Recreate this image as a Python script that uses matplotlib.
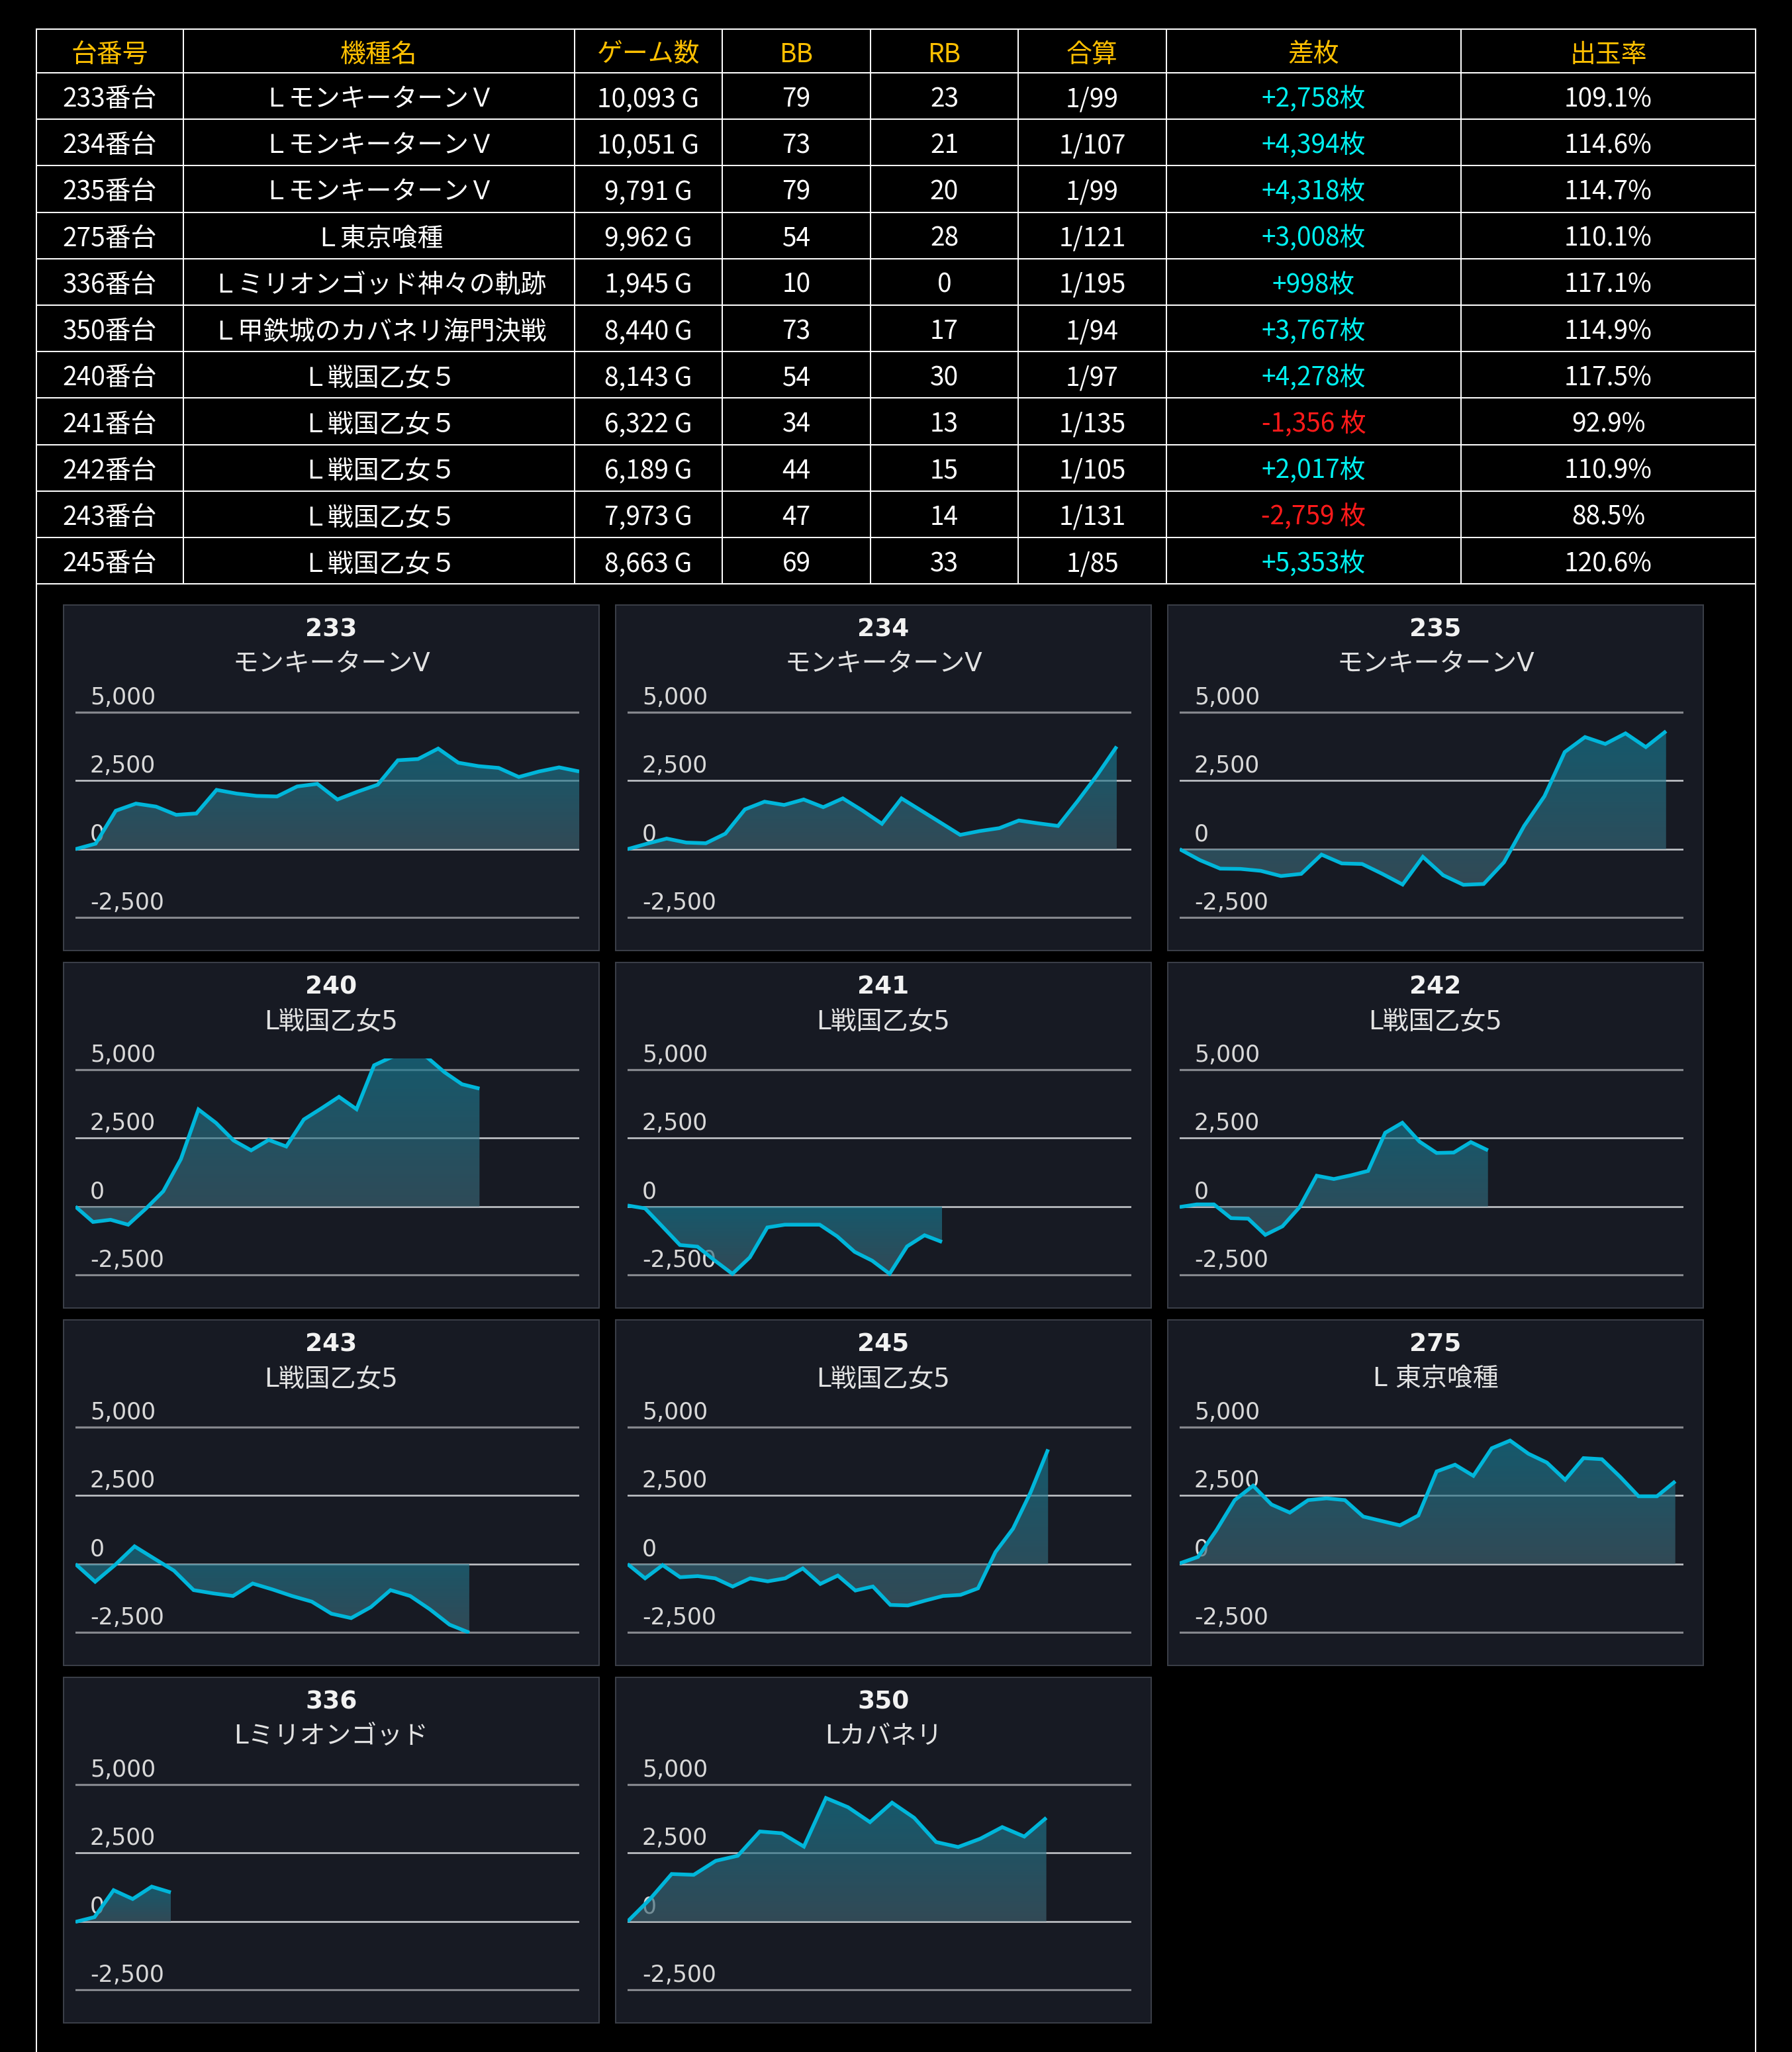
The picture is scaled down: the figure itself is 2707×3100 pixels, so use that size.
import matplotlib
matplotlib.use('Agg')
import matplotlib.pyplot as plt
import numpy as np
from matplotlib.patches import Rectangle, Polygon
from matplotlib.colors import LinearSegmentedColormap

# ---- table data ----
header = ['台番号', '機種名', 'ゲーム数', 'BB', 'RB', '合算', '差枚', '出玉率']
units = ['233番台', '234番台', '235番台', '275番台', '336番台', '350番台',
         '240番台', '241番台', '242番台', '243番台', '245番台']
machines = ['ＬモンキーターンＶ', 'ＬモンキーターンＶ', 'ＬモンキーターンＶ', 'Ｌ東京喰種',
            'Ｌミリオンゴッド神々の軌跡', 'Ｌ甲鉄城のカバネリ海門決戦',
            'Ｌ戦国乙女５', 'Ｌ戦国乙女５', 'Ｌ戦国乙女５', 'Ｌ戦国乙女５', 'Ｌ戦国乙女５']
games = [10093, 10051, 9791, 9962, 1945, 8440, 8143, 6322, 6189, 7973, 8663]
bb = [79, 73, 79, 54, 10, 73, 54, 34, 44, 47, 69]
rb = [23, 21, 20, 28, 0, 17, 30, 13, 15, 14, 33]
combined = ['1/99', '1/107', '1/99', '1/121', '1/195', '1/94', '1/97', '1/135', '1/105', '1/131', '1/85']
diff = [2758, 4394, 4318, 3008, 998, 3767, 4278, -1356, 2017, -2759, 5353]
payout = [109.1, 114.6, 114.7, 110.1, 117.1, 114.9, 117.5, 92.9, 110.9, 88.5, 120.6]

# ---- slump graph data (coins) ----
slump_233 = [0, 200, 1400, 1660, 1550, 1250, 1300, 2160, 2025, 1940, 1920, 2285, 2380,
             1810, 2095, 2350, 3240, 3285, 3665, 3150, 3025, 2960, 2630, 2830, 2980, 2830]
slump_234 = [0, 200, 385, 240, 215, 565, 1450, 1730, 1610, 1810, 1530, 1850, 1410, 925,
             1850, 1410, 965, 520, 660, 765, 1045, 940, 845, 1750, 2700, 3740]
slump_235 = [0, -400, -710, -720, -790, -980, -900, -200, -520, -540, -900, -1290, -280,
             -950, -1300, -1270, -480, 850, 1930, 3540, 4085, 3835, 4220, 3720, 4300]
slump_240 = [0, -560, -480, -660, -80, 560, 1730, 3540, 3050, 2410, 2050, 2430, 2190,
             3175, 3580, 4000, 3550, 5150, 5450, 5600, 5450, 4900, 4460, 4300]
slump_241 = [40, -65, -730, -1400, -1460, -1970, -2450, -1850, -760, -660, -660, -660,
             -1085, -1650, -1970, -2450, -1450, -1045, -1290]
slump_242 = [-15, 80, 80, -420, -440, -1030, -720, -20, 1125, 1005, 1140, 1300, 2690,
             3055, 2370, 1955, 1970, 2350, 2050]
slump_243 = [0, -645, -40, 645, 200, -240, -950, -1070, -1165, -710, -925, -1165, -1370,
             -1810, -1970, -1570, -950, -1165, -1650, -2210, -2500]
slump_245 = [0, -520, -40, -480, -440, -520, -820, -520, -630, -520, -160, -725, -420,
             -965, -820, -1490, -1510, -1330, -1165, -1125, -885, 440, 1290, 2610, 4180]
slump_275 = [25, 260, 1230, 2330, 2855, 2170, 1875, 2330, 2395, 2330, 1730, 1570, 1410,
             1770, 3375, 3620, 3215, 4220, 4500, 4020, 3700, 3070, 3860, 3820, 3175,
             2470, 2470, 3015]
slump_336 = [-15, 160, 1140, 820, 1270, 1060]
slump_350 = [0, 800, 1730, 1700, 2210, 2395, 3280, 3215, 2730, 4500, 4165, 3620, 4330,
             3780, 2895, 2715, 3015, 3440, 3095, 3780]

panel_units = ['233', '234', '235', '240', '241', '242', '243', '245', '275', '336', '350']
panel_names = ['モンキーターンV', 'モンキーターンV', 'モンキーターンV', 'L戦国乙女5', 'L戦国乙女5',
               'L戦国乙女5', 'L戦国乙女5', 'L戦国乙女5', 'L 東京喰種', 'Lミリオンゴッド', 'Lカバネリ']
# last game count reached on each graph
panel_ends = [10093, 9800, 9745, 8095, 6300, 6177, 7890, 8425, 9930, 1910, 8390]
panel_series = [slump_233, slump_234, slump_235, slump_240, slump_241, slump_242,
                slump_243, slump_245, slump_275, slump_336, slump_350]
y_ticks = [5000, 2500, 0, -2500]

W, H = 2707, 3100
PT = 72 / 100  # points per pixel

fig = plt.figure(figsize=(W / 100, H / 100), dpi=100, facecolor='black')
bg = fig.add_axes([0, 0, 1, 1])
bg.set_xlim(0, W)
bg.set_ylim(H, 0)
bg.axis('off')

# ---- table ----
col_edges = [55, 277, 868, 1091, 1315, 1538, 1762, 2207, 2652]
table_top, header_bottom, row_h = 44, 110, 70.2
row_edges = [table_top, header_bottom] + [header_bottom + row_h * (i + 1) for i in range(len(units))]
table_bottom = row_edges[-1]

for y in row_edges:
    bg.plot([col_edges[0], col_edges[-1]], [y, y], color='white', lw=2 * PT)
for x in col_edges[1:-1]:
    bg.plot([x, x], [table_top, table_bottom], color='white', lw=2 * PT)
for x in (col_edges[0], col_edges[-1]):
    bg.plot([x, x], [table_top, H], color='white', lw=2 * PT)

tfont = dict(family=['Noto Sans CJK JP', 'DejaVu Sans'], fontsize=28, ha='center', va='center')
col_centers = [(a + b) / 2 for a, b in zip(col_edges[:-1], col_edges[1:])]
for cx, txt in zip(col_centers, header):
    bg.text(cx, (table_top + header_bottom) / 2 + 6, txt, color='#ffc000', **tfont)

for i in range(len(units)):
    d = diff[i]
    diff_txt = f'+{d:,}枚' if d > 0 else f'{d:,} 枚'
    cells = [units[i], machines[i], f'{games[i]:,} G', str(bb[i]), str(rb[i]),
             combined[i], diff_txt, f'{payout[i]:.1f}%']
    cy = (row_edges[i + 1] + row_edges[i + 2]) / 2 + 5
    for j, (cx, txt) in enumerate(zip(col_centers, cells)):
        color = 'white'
        if j == 6:
            color = '#00f0f0' if d > 0 else '#ff1a1a'
        bg.text(cx, cy, txt, color=color, **tfont)

# ---- slump panels ----
grad = LinearSegmentedColormap.from_list('slump', ['#416472', '#157c95'])
panel_w, panel_h = 809, 522
y_lo, y_hi = -2530, 5390

for k, unit in enumerate(panel_units):
    px = 96 + (k % 3) * 834
    py = 914 + (k // 3) * 540
    bg.add_patch(Rectangle((px, py), panel_w, panel_h, facecolor='#171a23',
                           edgecolor='#3a3e47', lw=2 * PT, zorder=1))
    bg.text(px + panel_w / 2, py + 37, unit, color='#f2f2f2', fontsize=27,
            fontweight='bold', family='DejaVu Sans', ha='center', va='center', zorder=2)
    bg.text(px + panel_w / 2, py + 89, panel_names[k], color='#e2e2e2', fontsize=28,
            family=['DejaVu Sans', 'Noto Sans CJK JP'], ha='center', va='center', zorder=2)

    ax_left, ax_top = px + 18, py + 145.4
    ax = fig.add_axes([ax_left / W, 1 - (ax_top + 328.3) / H, 761 / W, 328.3 / H])
    ax.set_facecolor('none')
    ax.set_zorder(2)
    for s in ax.spines.values():
        s.set_visible(False)
    ax.set_xticks([])
    ax.set_yticks([])

    for t in y_ticks:
        inner = t in (0, 2500)
        ax.axhline(t, color='#c3c5c9' if inner else '#85878d', lw=(2.6 if inner else 3.2) * PT, zorder=1)
        ax.annotate(f'{t:,}', xy=(22 / 761, t), xycoords=('axes fraction', 'data'),
                    xytext=(0, 22 * PT), textcoords='offset points', color='#d9d9d9',
                    fontsize=25, family='DejaVu Sans', ha='left', va='center', zorder=1)

    vals = np.array(panel_series[k], dtype=float)
    xs = np.linspace(0, panel_ends[k], len(vals))
    verts = np.column_stack([np.r_[xs[0], xs, xs[-1]], np.r_[0, vals, 0]])
    shape = Polygon(verts, closed=True, facecolor='none', edgecolor='none')
    ax.add_patch(shape)
    g_lo, g_hi = min(0, vals.min()), max(0, vals.max())
    im = ax.imshow(np.linspace(0, 1, 256).reshape(-1, 1), cmap=grad, origin='lower',
                   extent=[0, panel_ends[k], g_lo, g_hi], aspect='auto', alpha=0.65, zorder=2)
    im.set_clip_path(shape)
    ax.plot(xs, vals, color='#00b6da', lw=5.6 * PT, solid_joinstyle='miter',
            solid_capstyle='butt', zorder=3)

    ax.set_xlim(0, panel_ends[0])
    ax.set_ylim(y_lo, y_hi)

fig.savefig('out.png', dpi=100, facecolor='black')
